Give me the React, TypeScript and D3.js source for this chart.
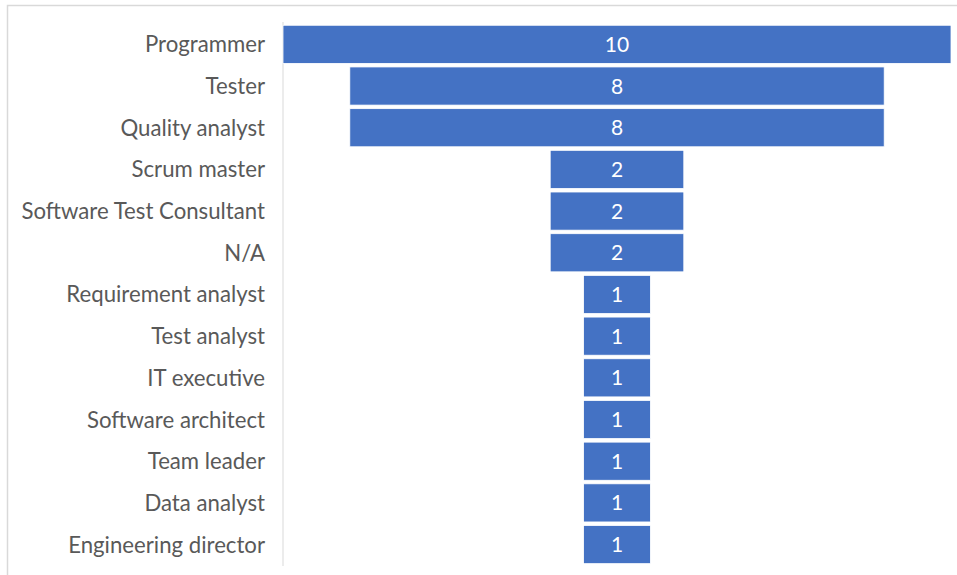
import React from 'react';
import * as d3 from 'd3';

// roles, top to bottom, and the count for each
const roles = [
  'Programmer',
  'Tester',
  'Quality analyst',
  'Scrum master',
  'Software Test Consultant',
  'N/A',
  'Requirement analyst',
  'Test analyst',
  'IT executive',
  'Software architect',
  'Team leader',
  'Data analyst',
  'Engineering director',
];
const counts = [10, 8, 8, 2, 2, 2, 1, 1, 1, 1, 1, 1, 1];

const W = 957;
const H = 575;
const plotLeft = 283;
const plotRight = 951;
const centerX = (plotLeft + plotRight) / 2;

const App: React.FC = () => {
  const y = d3.scaleBand<string>()
    .domain(roles)
    .range([23.6, 23.6 + 41.67 * roles.length])
    .paddingInner(0.085)
    .paddingOuter(0.04);

  const w = d3.scaleLinear()
    .domain([0, d3.max(counts) || 10])
    .range([0, plotRight - plotLeft]);

  const font = 'Lato, "Open Sans", sans-serif';

  return (
    <div style={{ position: 'absolute', left: 0, top: 0 }}>
      <svg width={W} height={H} style={{ display: 'block', background: '#fff' }}>
        {/* outer chart frame */}
        <path d={`M7.5,${H} V5.5 H${W}`} fill="none" stroke="#d9d9d9" strokeWidth={1.5} />

        {/* vertical category axis */}
        <line x1={plotLeft} x2={plotLeft} y1={22} y2={566} stroke="#d9d9d9" strokeWidth={1} />

        {/* bars */}
        <g>
          {roles.map((r, i) => (
            <rect
              key={r}
              x={centerX - w(counts[i]) / 2}
              y={y(r)}
              width={w(counts[i])}
              height={y.bandwidth()}
              fill="#4472c4"
              stroke="#ffffff"
              strokeWidth={0.8}
            />
          ))}
        </g>

        {/* value labels */}
        <g style={{ fontFamily: font, fontSize: 21 }} fill="#ffffff" textAnchor="middle">
          {roles.map((r, i) => (
            <text key={r} x={centerX} y={(y(r) || 0) + y.bandwidth() / 2} dy="0.36em">
              {counts[i]}
            </text>
          ))}
        </g>

        {/* category labels */}
        <g style={{ fontFamily: font, fontSize: 22.2 }} fill="#595959" textAnchor="end">
          {roles.map((r) => (
            <text key={r} x={265} y={(y(r) || 0) + y.bandwidth() / 2} dy="0.36em">
              {r}
            </text>
          ))}
        </g>
      </svg>
    </div>
  );
};

export default App;
